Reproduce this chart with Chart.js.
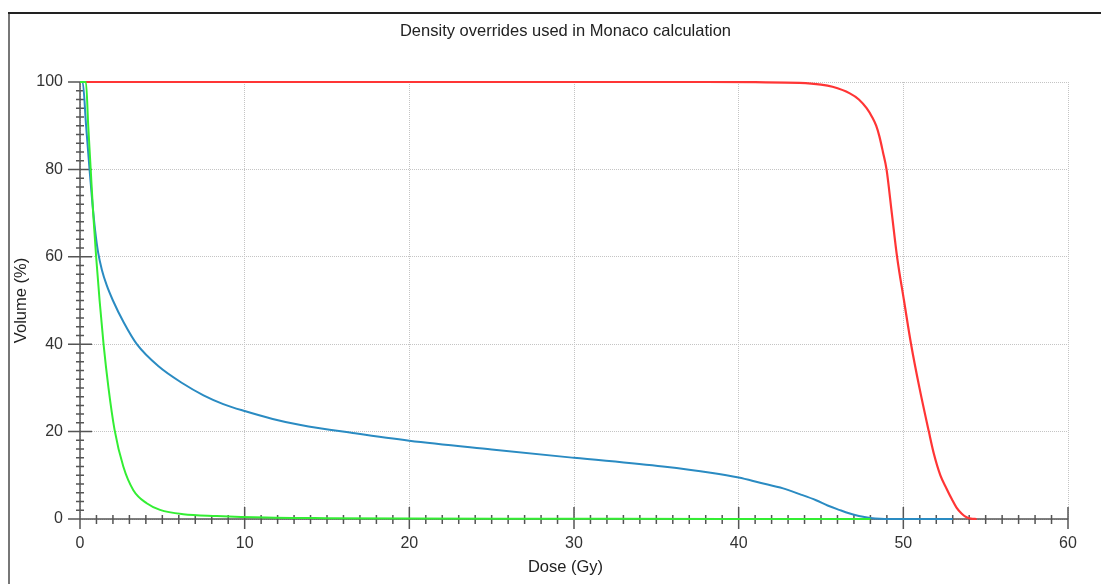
<!DOCTYPE html>
<html>
<head>
<meta charset="utf-8">
<script src="https://cdn.jsdelivr.net/npm/chart.js@4.4.1/dist/chart.umd.min.js"></script>
<style>
  html, body { margin: 0; padding: 0; background: #fff; }
</style>
</head>
<body>
<canvas id="dvhChart" width="1101" height="584"></canvas>
<script>
// DVH curves (dose in Gy, volume in %)
const redDose = [0, 10, 20, 30, 38, 41, 43.7, 45, 45.7, 46.75, 47.3, 47.77, 48.1, 48.35, 48.55, 48.76, 48.98, 49.3, 49.62, 50.04, 50.47, 50.98, 51.55, 51.85, 52.25, 52.62, 52.95, 53.23, 53.55, 53.84, 54.1, 54.45];
const redVol = [100, 100, 100, 100, 100, 99.95, 99.8, 99.4, 98.9, 97.4, 96, 94, 92, 90, 87.5, 84, 80, 70, 60, 50, 40, 30, 20, 15, 10, 7, 4.5, 2.6, 1.2, 0.4, 0.1, 0];

const blueDose = [0, 0.16, 0.37, 0.58, 0.76, 0.92, 1.1, 1.33, 1.62, 2.0, 2.65, 3.45, 4.75, 6.25, 7.5, 8.7, 10, 11.7, 13.4, 16.7, 20, 25, 30, 35.4, 38.3, 40, 41.3, 42.7, 43.7, 44.7, 45.4, 46.1, 46.7, 47.3, 48, 48.6, 49.2, 53];
const blueVol = [100, 100, 90, 80, 72, 66, 61, 57, 53.5, 50, 45, 40, 35, 31, 28.3, 26.3, 24.7, 22.9, 21.5, 19.6, 17.9, 15.9, 14, 12, 10.6, 9.5, 8.3, 7, 5.7, 4.3, 3.1, 2.1, 1.3, 0.7, 0.25, 0.05, 0, 0];

const greenDose = [0, 0.36, 0.5, 0.65, 0.8, 0.98, 1.19, 1.43, 1.73, 2.1, 2.63, 3.24, 4.05, 4.86, 6.27, 8.3, 11.3, 15, 20, 30, 40, 48];
const greenVol = [100, 100, 90, 80, 70, 60, 50, 40, 30, 20.4, 12, 6.6, 3.6, 2.1, 1.1, 0.7, 0.35, 0.2, 0.1, 0.05, 0, 0];

const xTicks = [0, 10, 20, 30, 40, 50, 60];
const yTicks = [0, 20, 40, 60, 80, 100];

const chartTitle = 'Density overrides used in Monaco calculation';
const xTitle = 'Dose (Gy)';
const yTitle = 'Volume (%)';

function toPoints(dose, vol) {
  return dose.map((d, i) => ({ x: d, y: vol[i] }));
}

const fontFamily = "'Liberation Sans', Arial, sans-serif";

// frame, axis lines with crossing tick marks, titles
const frameAndTicks = {
  id: 'frameAndTicks',
  beforeDraw(chart) {
    const ctx = chart.ctx;
    ctx.save();
    ctx.fillStyle = '#fff';
    ctx.fillRect(0, 0, chart.width, chart.height);
    ctx.lineWidth = 2;
    ctx.strokeStyle = '#777';
    ctx.beginPath();
    ctx.moveTo(9, chart.height);
    ctx.lineTo(9, 13);
    ctx.stroke();
    ctx.strokeStyle = '#222';
    ctx.beginPath();
    ctx.moveTo(8, 13);
    ctx.lineTo(chart.width, 13);
    ctx.stroke();

    // titles are centred on the frame, not on the plot area
    const cx = (chart.width + 30) / 2;
    ctx.fillStyle = '#222';
    ctx.font = '16.5px ' + fontFamily;
    ctx.textAlign = 'center';
    ctx.textBaseline = 'middle';
    ctx.fillText(chartTitle, cx, 31);
    ctx.fillText(xTitle, cx, 567);
    ctx.restore();
  },
  beforeDatasetsDraw(chart) {
    const { ctx, scales: { x, y } } = chart;
    const x0 = x.getPixelForValue(0);
    const y0 = y.getPixelForValue(0);
    ctx.save();
    ctx.strokeStyle = '#555';
    ctx.lineWidth = 1.5;
    ctx.beginPath();
    ctx.moveTo(x0, y.getPixelForValue(100));
    ctx.lineTo(x0, y0);
    ctx.lineTo(x.getPixelForValue(60), y0);
    for (let d = 0; d <= 60; d++) {
      const px = x.getPixelForValue(d);
      const major = d % 10 === 0;
      ctx.moveTo(px, y0 - (major ? 12 : 4));
      ctx.lineTo(px, y0 + (major ? 10 : 5));
    }
    for (let v = 0; v <= 100; v += 2) {
      const py = y.getPixelForValue(v);
      const major = v % 20 === 0;
      ctx.moveTo(x0 - (major ? 12 : 4), py);
      ctx.lineTo(x0 + (major ? 12 : 4), py);
    }
    ctx.stroke();
    ctx.restore();
  }
};

const ctx = document.getElementById('dvhChart').getContext('2d');
new Chart(ctx, {
  type: 'line',
  data: {
    datasets: [
      {
        label: 'Green',
        data: toPoints(greenDose, greenVol),
        borderColor: '#33ee33',
        borderWidth: 2,
        pointRadius: 0,
        cubicInterpolationMode: 'monotone',
        clip: false,
        order: 0
      },
      {
        label: 'Blue',
        data: toPoints(blueDose, blueVol),
        borderColor: '#2a8bc2',
        borderWidth: 2,
        pointRadius: 0,
        cubicInterpolationMode: 'monotone',
        clip: false,
        order: 1
      },
      {
        label: 'Red',
        data: toPoints(redDose, redVol),
        borderColor: '#ff3535',
        borderWidth: 2.2,
        pointRadius: 0,
        cubicInterpolationMode: 'monotone',
        clip: false,
        order: 2
      }
    ]
  },
  options: {
    responsive: false,
    animation: false,
    layout: { padding: { left: 0, right: 33, top: 82, bottom: 0 } },
    scales: {
      x: {
        type: 'linear',
        min: 0,
        max: 60,
        afterFit: (scale) => { scale.height = 65; },
        afterBuildTicks: (scale) => { scale.ticks = xTicks.map(v => ({ value: v })); },
        grid: { color: '#c4c4c4', lineWidth: 1, drawTicks: false },
        border: { display: false, dash: [1, 1] },
        ticks: { color: '#333', padding: 15, font: { family: fontFamily, size: 16 }, maxRotation: 0 }
      },
      y: {
        min: 0,
        max: 100,
        afterFit: (scale) => { scale.width = 80; },
        afterBuildTicks: (scale) => { scale.ticks = yTicks.map(v => ({ value: v })); },
        grid: { color: '#c4c4c4', lineWidth: 1, drawTicks: false },
        border: { display: false, dash: [1, 1] },
        ticks: { color: '#333', padding: 17, font: { family: fontFamily, size: 16 } },
        title: {
          display: true,
          text: yTitle,
          color: '#222',
          font: { family: fontFamily, size: 16.5 },
          padding: { top: 12, bottom: 0 }
        }
      }
    },
    plugins: {
      legend: { display: false },
      tooltip: { enabled: false },
      title: { display: false }
    }
  },
  plugins: [frameAndTicks]
});
</script>
</body>
</html>
